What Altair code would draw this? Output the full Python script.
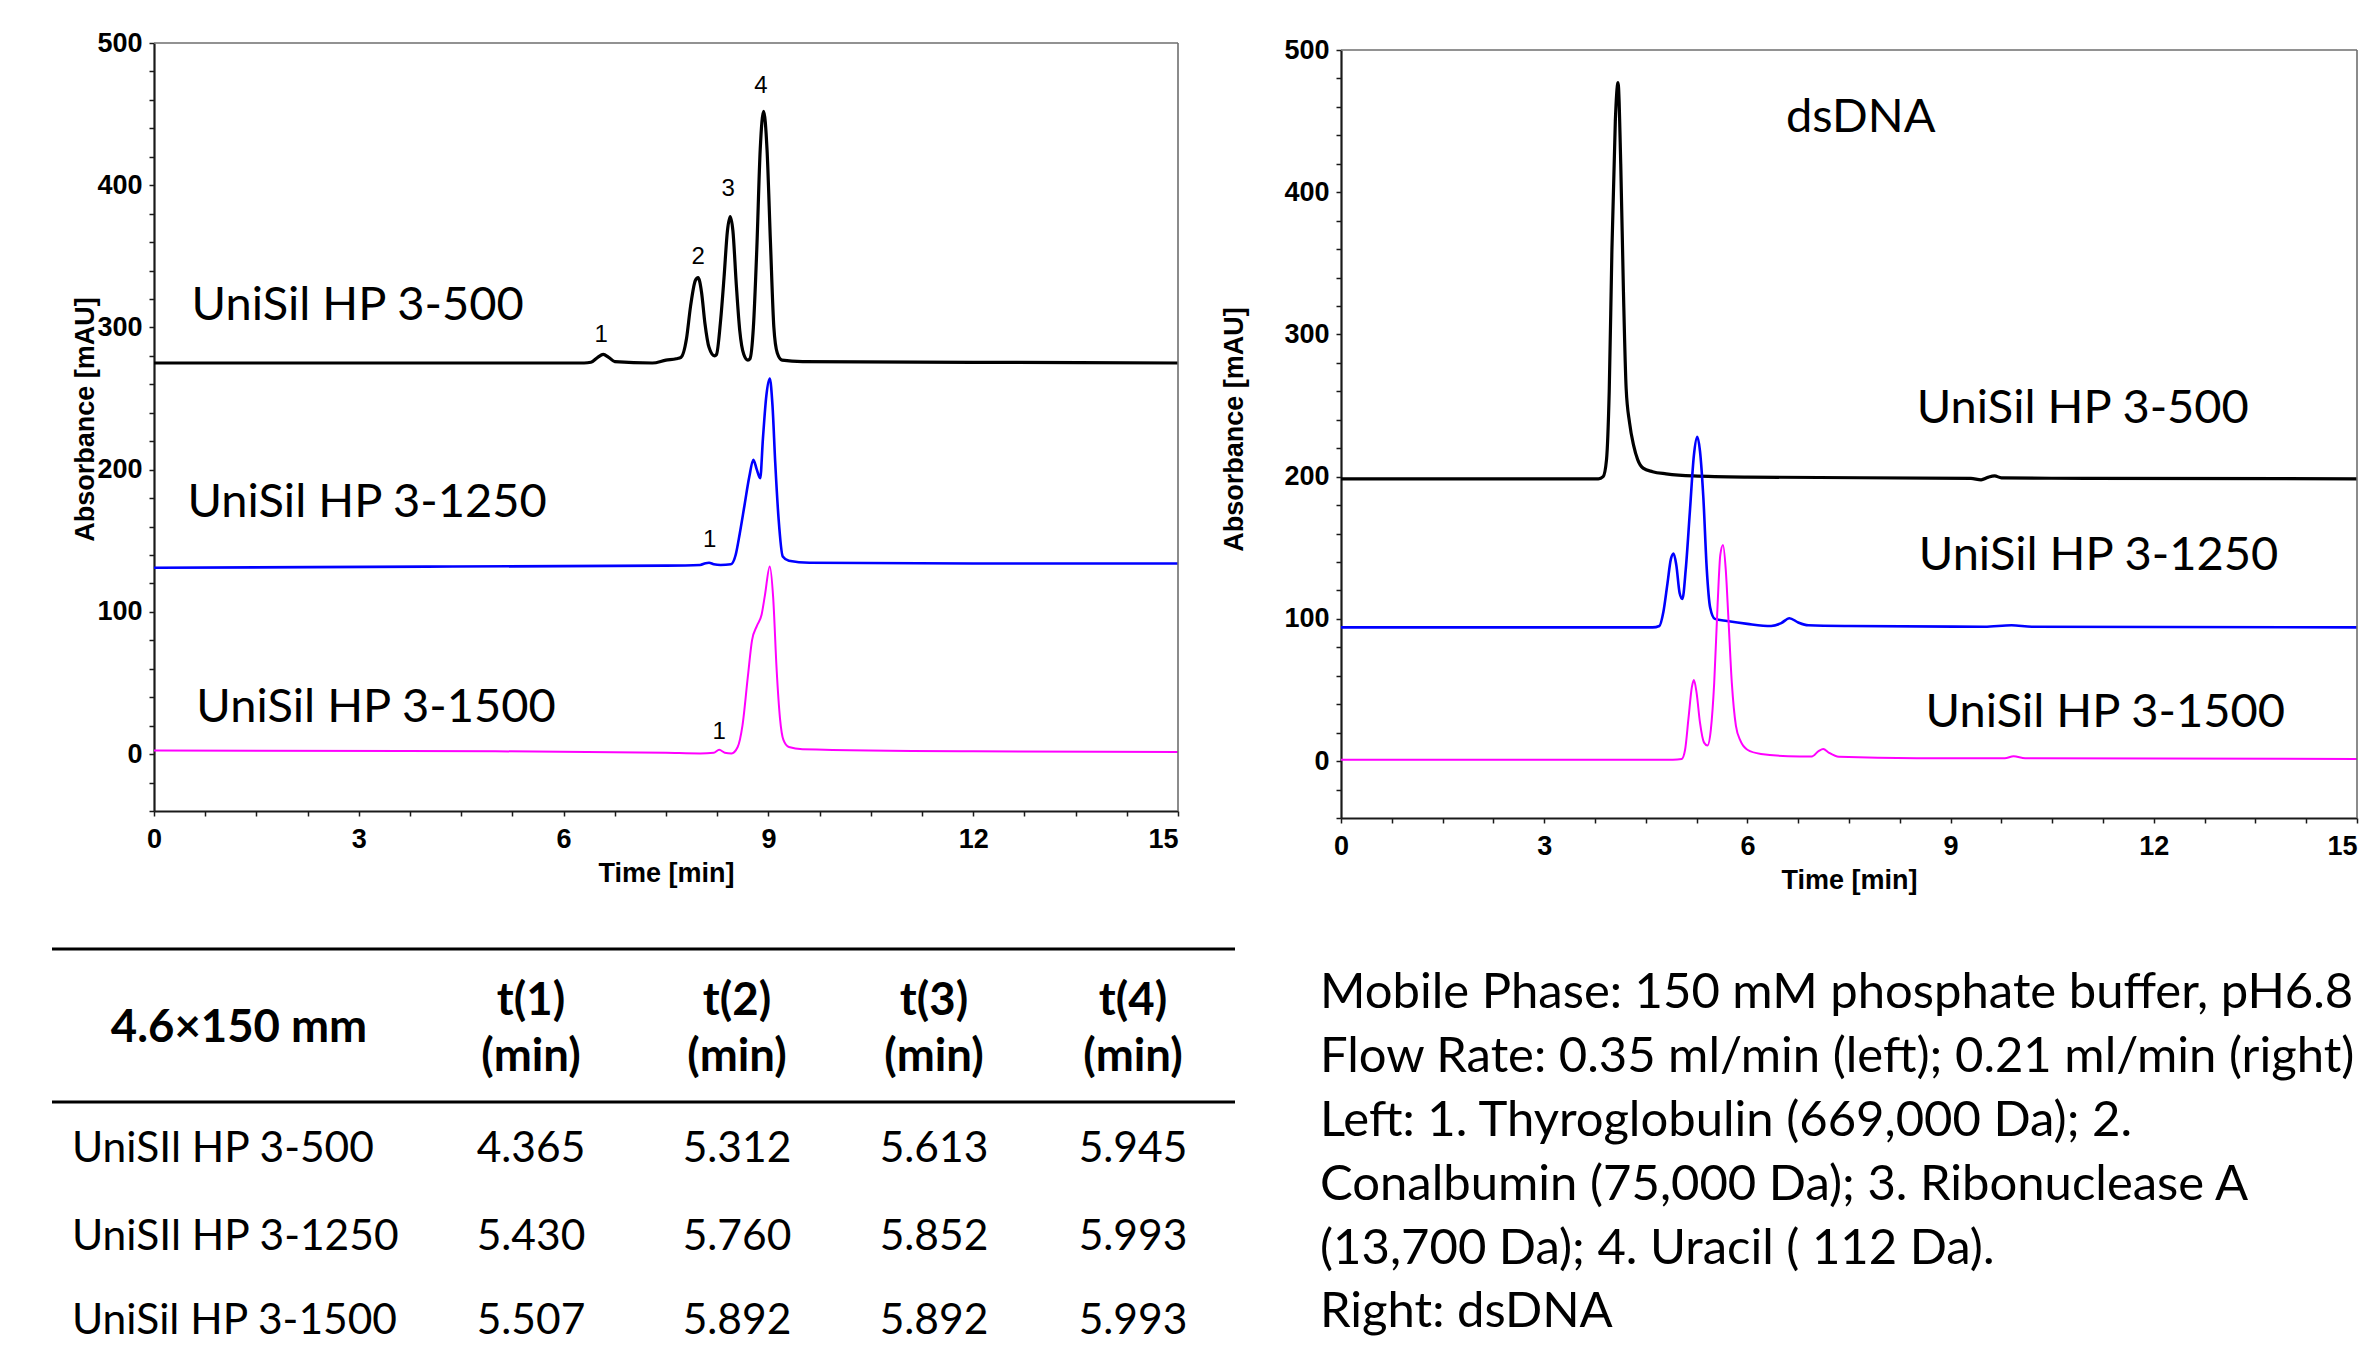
import altair as alt
import pandas as pd

# ---------------- Left panel: protein standards (time [min], absorbance [mAU]) ----------------
l500_t = [0, 3, 6.3, 6.4, 6.5, 6.58, 6.66, 6.75, 7.3, 7.5, 7.65, 7.72, 7.8, 7.86, 7.93, 7.97, 8.02, 8.07, 8.13, 8.21,
          8.24, 8.3, 8.35, 8.4, 8.44, 8.48, 8.53, 8.58, 8.64, 8.7, 8.73, 8.78, 8.83, 8.88, 8.93, 8.98, 9.03, 9.08,
          9.13, 9.2, 9.5, 12, 15]
l500_a = [275, 275, 275, 275.5, 279, 281, 279, 276, 275, 277, 278, 279, 292, 315, 333, 335, 325, 303, 286, 280,
          281, 305, 335, 368, 378, 368, 330, 298, 281, 277, 278, 300, 355, 425, 452, 425, 360, 300, 282, 277,
          276, 275.5, 275]

l1250_t = [0, 4, 7.5, 8.0, 8.08, 8.13, 8.2, 8.3, 8.45, 8.52, 8.58, 8.65, 8.72, 8.78, 8.83, 8.88, 8.92, 8.97, 9.02,
           9.06, 9.1, 9.15, 9.21, 9.3, 9.6, 12, 15]
l1250_a = [131, 131.8, 132.5, 133, 134.2, 134.5, 133.5, 133, 133.5, 140, 155, 175, 195, 207, 200, 194, 222, 252, 264,
           245, 205, 165, 139, 136, 134.5, 134, 134]

l1500_t = [0, 5, 7.5, 8.0, 8.2, 8.28, 8.36, 8.46, 8.55, 8.62, 8.7, 8.76, 8.83, 8.9, 8.95, 9.02, 9.07, 9.12, 9.17,
           9.22, 9.3, 9.5, 12, 15]
l1500_a = [2.5, 2, 1, 0.5, 1, 3, 1, 0.5, 5, 20, 55, 80, 90, 98, 112, 132, 110, 60, 25, 10, 5, 3.5, 2, 1.5]

# ---------------- Right panel: dsDNA ----------------
r500_t = [0, 3, 3.8, 3.87, 3.92, 3.96, 4.0, 4.05, 4.09, 4.13, 4.17, 4.21, 4.26, 4.32, 4.38, 4.46, 4.6, 4.8, 5.2, 6,
          9.3, 9.45, 9.55, 9.65, 9.75, 11, 15]
r500_a = [198.5, 198.5, 198.5, 200, 212, 260, 360, 450, 477, 420, 330, 262, 238, 222, 212, 206, 203.5, 202, 200.5,
          199.7, 198.8, 197.8, 199.5, 200.5, 199.2, 198.8, 198.5]

r1250_t = [0, 4.6, 4.7, 4.76, 4.82, 4.87, 4.91, 4.95, 5.0, 5.04, 5.09, 5.15, 5.21, 5.26, 5.3, 5.35, 5.4, 5.45, 5.52,
           5.7, 6.0, 6.35, 6.5, 6.62, 6.75, 6.9, 7.5, 9.5, 9.9, 10.2, 15]
r1250_a = [94, 94, 95, 105, 125, 142, 146, 138, 118, 114, 135, 175, 215, 228, 218, 185, 135, 108, 100, 98.5, 96.5,
           95, 97, 100.5, 97.5, 95.5, 95, 94.5, 95.5, 94.5, 94]

r1500_t = [0, 4.9, 5.03, 5.08, 5.13, 5.18, 5.21, 5.25, 5.3, 5.36, 5.41, 5.46, 5.51, 5.56, 5.6, 5.64, 5.68, 5.72, 5.77,
           5.83, 5.9, 6.0, 6.2, 6.6, 6.95, 7.05, 7.12, 7.2, 7.35, 8.5, 9.8, 9.93, 10.1, 15]
r1500_a = [1, 1, 1.5, 8, 30, 52, 57, 48, 27, 13, 11, 22, 55, 110, 145, 152, 135, 100, 55, 25, 14, 8, 5, 3.5, 3.3, 7,
           8.5, 6, 3, 2, 2, 3.5, 2, 1.5]

SERIES = ["UniSil HP 3-500", "UniSil HP 3-1250", "UniSil HP 3-1500"]
COLORS = ["#000000", "#0000ff", "#ff00ff"]

# annotation texts and their anchor positions (time, absorbance)
left_lab_text = ["UniSil HP 3-500", "UniSil HP 3-1250", "UniSil HP 3-1500"]
left_lab_t = [0.55, 0.49, 0.62]
left_lab_a = [315, 176.6, 32.4]

peak_text = ["1", "2", "3", "4", "1", "1"]
peak_t = [6.55, 7.97, 8.41, 8.89, 8.14, 8.28]
peak_a = [294.7, 349.5, 397.3, 469.8, 150.5, 15.5]

right_lab_text = ["dsDNA", "UniSil HP 3-500", "UniSil HP 3-1250", "UniSil HP 3-1500"]
right_lab_t = [6.57, 8.50, 8.53, 8.63]
right_lab_a = [452.2, 247.6, 144.2, 33.8]

# ---------------- Table ----------------
tbl_header = "4.6×150 mm"
tbl_cols = ["t(1)", "t(2)", "t(3)", "t(4)"]
tbl_rows = ["UniSIl HP 3-500", "UniSIl HP 3-1250", "UniSil HP 3-1500"]
t1 = [4.365, 5.430, 5.507]
t2 = [5.312, 5.760, 5.892]
t3 = [5.613, 5.852, 5.892]
t4 = [5.945, 5.993, 5.993]

notes = [
    "Mobile Phase: 150 mM phosphate buffer, pH6.8",
    "Flow Rate: 0.35 ml/min (left); 0.21 ml/min (right)",
    "Left: 1. Thyroglobulin (669,000 Da); 2.",
    "Conalbumin (75,000 Da); 3. Ribonuclease A",
    "(13,700 Da); 4. Uracil ( 112 Da).",
    "Right: dsDNA",
]

# ---------------- layout (pixels) ----------------
PW_L, PH_L = 1024, 768
PW_R, PH_R = 1016, 775
TBL_W, TBL_H = 1024, 440
TBL_RULE_Y = [49, 202]
TBL_X0, TBL_X1 = -102, 1081
TBL_COL_X = [377, 583, 780, 979]
TBL_LABEL_X = -82
TBL_HEAD_X = 85
TBL_HEAD_Y = [101, 157, 128]
TBL_ROW_Y = [249, 337, 421]
NOTE_X = -21
NOTE_Y = [93, 157, 221, 285, 349, 412]

FONT_TXT = "Lato"
FONT_AX = "Liberation Sans"

X_TICKS = [round(0.75 * k, 2) for k in range(21)]
Y_TICKS = list(range(-40, 501, 20))

AX = dict(labelFont=FONT_AX, labelFontWeight="bold", labelFontSize=27, labelColor="#000000",
          titleFont=FONT_AX, titleFontWeight="bold", titleFontSize=27, titleColor="#000000",
          domainColor="#1a1a1a", domainWidth=2.2, tickColor="#1a1a1a", tickWidth=1.5, tickSize=5,
          grid=False, labelOverlap=False, labelFlush=False, labelBound=False)


def x_axis():
    return alt.Axis(title="Time [min]", values=X_TICKS, orient="bottom",
                    labelExpr="datum.value % 3 == 0 ? format(datum.value, 'd') : ''",
                    labelAlign={"condition": {"test": "datum.value >= 15", "value": "right"}, "value": "center"},
                    labelPadding=10, titlePadding=8, **AX)


def y_axis(title_pad, title_y):
    return alt.Axis(title="Absorbance [mAU]", values=Y_TICKS, orient="left",
                    labelExpr="datum.value % 100 == 0 ? format(datum.value, 'd') : ''",
                    labelPadding=7, titlePadding=title_pad, titleY=title_y, **AX)


def series_df(items):
    rows = []
    for name, ts, vals in items:
        for t, a in zip(ts, vals):
            rows.append({"series": name, "t": t, "a": a})
    return pd.DataFrame(rows)


def panel(df, lab_df, num_df, width, height, yscale, widths, title_pad, title_y):
    xs = alt.Scale(domain=[0, 15], nice=False, zero=False)
    X = alt.X("t:Q", scale=xs, axis=x_axis())
    Y = alt.Y("a:Q", scale=yscale, axis=y_axis(title_pad, title_y))
    lines = alt.Chart(df).mark_line(interpolate="monotone", strokeJoin="round", strokeCap="butt").encode(
        x=X, y=Y,
        color=alt.Color("series:N", scale=alt.Scale(domain=SERIES, range=COLORS), legend=None),
        strokeWidth=alt.StrokeWidth("series:N", scale=alt.Scale(domain=SERIES, range=widths), legend=None),
    )
    frame_df = pd.DataFrame({"t": [0, 15], "t2": [15, 15], "a": [500, -40], "a2": [500, 500]})
    frame = alt.Chart(frame_df).mark_rule(color="#6e6e6e", strokeWidth=1.6).encode(
        x=X, x2="t2:Q", y=Y, y2="a2:Q")
    labels = alt.Chart(lab_df).mark_text(font=FONT_TXT, fontSize=47, align="left", baseline="middle",
                                         color="#000000").encode(x=X, y=Y, text="label:N")
    layers = [lines, frame, labels]
    if num_df is not None:
        nums = alt.Chart(num_df).mark_text(font=FONT_AX, fontSize=24, align="center", baseline="middle",
                                           color="#000000").encode(x=X, y=Y, text="label:N")
        layers.append(nums)
    return alt.layer(*layers).properties(width=width, height=height)


left_df = series_df([(SERIES[0], l500_t, l500_a), (SERIES[1], l1250_t, l1250_a), (SERIES[2], l1500_t, l1500_a)])
right_df = series_df([(SERIES[0], r500_t, r500_a), (SERIES[1], r1250_t, r1250_a), (SERIES[2], r1500_t, r1500_a)])
left_lab = pd.DataFrame({"label": left_lab_text, "t": left_lab_t, "a": left_lab_a})
left_num = pd.DataFrame({"label": peak_text, "t": peak_t, "a": peak_a})
right_lab = pd.DataFrame({"label": right_lab_text, "t": right_lab_t, "a": right_lab_a})

left_chart = panel(left_df, left_lab, left_num, PW_L, PH_L,
                   alt.Scale(domain=[-40, 500], nice=False, zero=False), [3.2, 2.0, 2.0], -2.5, 376)
right_chart = panel(right_df, right_lab, None, PW_R, PH_R,
                    alt.Scale(domain=[-40, 500], nice=False, zero=False, range=[PH_R, PH_R - 768]),
                    [1.5, 1.5, 1.5], 35, 386)

# ---------------- table chart ----------------
tx = alt.Scale(domain=[0, TBL_W], nice=False, zero=False)
ty = alt.Scale(domain=[0, TBL_H], nice=False, zero=False, reverse=True)
TX = alt.X("x:Q", scale=tx, axis=None)
TY = alt.Y("y:Q", scale=ty, axis=None)

rules_df = pd.DataFrame({"x": [TBL_X0] * 2, "x2": [TBL_X1] * 2, "y": TBL_RULE_Y})
head_rows = [{"x": TBL_HEAD_X, "y": TBL_HEAD_Y[2], "text": tbl_header}]
for cx, c in zip(TBL_COL_X, tbl_cols):
    head_rows.append({"x": cx, "y": TBL_HEAD_Y[0], "text": c})
    head_rows.append({"x": cx, "y": TBL_HEAD_Y[1], "text": "(min)"})
head_df = pd.DataFrame(head_rows)
rowlab_df = pd.DataFrame({"x": [TBL_LABEL_X] * 3, "y": TBL_ROW_Y, "text": tbl_rows})
cell_rows = []
for col_vals, cx in zip([t1, t2, t3, t4], TBL_COL_X):
    for v, ry in zip(col_vals, TBL_ROW_Y):
        cell_rows.append({"x": cx, "y": ry, "text": f"{v:.3f}"})
cell_df = pd.DataFrame(cell_rows)

t_rules = alt.Chart(rules_df).mark_rule(color="#000000", strokeWidth=3).encode(x=TX, x2="x2:Q", y=TY)
t_head = alt.Chart(head_df).mark_text(font=FONT_TXT, fontSize=45.5, fontWeight="bold", align="center",
                                      baseline="middle", color="#000000").encode(x=TX, y=TY, text="text:N")
t_rowlab = alt.Chart(rowlab_df).mark_text(font=FONT_TXT, fontSize=42.5, align="left", baseline="middle",
                                          color="#000000").encode(x=TX, y=TY, text="text:N")
t_cells = alt.Chart(cell_df).mark_text(font=FONT_TXT, fontSize=42.5, align="center", baseline="middle",
                                       color="#000000").encode(x=TX, y=TY, text="text:N")
table_chart = alt.layer(t_rules, t_head, t_rowlab, t_cells).properties(width=TBL_W, height=TBL_H)

# ---------------- notes chart ----------------
notes_df = pd.DataFrame({"x": [NOTE_X] * len(notes), "y": NOTE_Y, "text": notes})
notes_chart = alt.Chart(notes_df).mark_text(font=FONT_TXT, fontSize=49, align="left", baseline="middle",
                                            color="#000000", limit=1036, ellipsis="").encode(
    x=alt.X("x:Q", scale=alt.Scale(domain=[0, PW_R], nice=False, zero=False), axis=None),
    y=alt.Y("y:Q", scale=alt.Scale(domain=[0, TBL_H], nice=False, zero=False, reverse=True), axis=None),
    text="text:N").properties(width=PW_R, height=TBL_H)

chart = alt.concat(left_chart, right_chart, table_chart, notes_chart, columns=2,
                   spacing={"row": 82, "column": 163}, bounds="flush").properties(
    padding={"left": 42, "top": 21, "right": 0, "bottom": 0},
    background="#ffffff",
).configure_view(stroke="transparent", strokeWidth=0)

chart.save("out.html", embed_options={"renderer": "svg", "actions": False})
